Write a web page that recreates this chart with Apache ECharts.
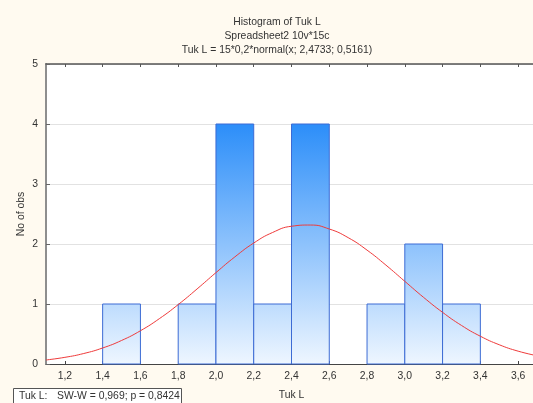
<!DOCTYPE html>
<html>
<head>
<meta charset="utf-8">
<script src="https://cdn.jsdelivr.net/npm/echarts@6/dist/echarts.min.js"></script>
<style>
  html, body { margin: 0; padding: 0; background: #fffaf0; }
  #chart { width: 533px; height: 403px; }
</style>
</head>
<body>
<div id="chart"></div>
<script>
// Histogram bins (lower edge, upper edge) and counts
const binLow  = [1.4, 1.8, 2.0, 2.2, 2.4, 2.8, 3.0, 3.2];
const binHigh = [1.6, 2.0, 2.2, 2.4, 2.6, 3.0, 3.2, 3.4];
const counts  = [1, 1, 4, 1, 4, 1, 2, 1];

// Fitted normal curve, 15*0,2*normal(x; 2,4733; 0,5161), sampled
const curveX = [1.1, 1.2, 1.3, 1.4, 1.5, 1.6, 1.7, 1.8, 1.9, 2.0, 2.1, 2.2, 2.3, 2.4,
                2.5, 2.6, 2.7, 2.8, 2.9, 3.0, 3.1, 3.2, 3.3, 3.4, 3.5, 3.6, 3.7];
const curveY = [0.067, 0.111, 0.175, 0.267, 0.392, 0.554, 0.755, 0.990, 1.251, 1.523,
                1.785, 2.016, 2.192, 2.296, 2.316, 2.250, 2.106, 1.898, 1.648, 1.378,
                1.109, 0.861, 0.643, 0.463, 0.321, 0.214, 0.138];

// Axis ticks
const xTicks = [1.2, 1.4, 1.6, 1.8, 2.0, 2.2, 2.4, 2.6, 2.8, 3.0, 3.2, 3.4, 3.6];

const titleLines = ['Histogram of Tuk L', 'Spreadsheet2 10v*15c', 'Tuk L = 15*0,2*normal(x; 2,4733; 0,5161)'];
const xName = 'Tuk L';
const yName = 'No of obs';
const testLabel = 'Tuk L:';
const testText = 'SW-W = 0,969; p = 0,8424';

const FONT = 'Arial, "Liberation Sans", sans-serif';
const FS = 10.4;
const fmt = v => v.toFixed(1).replace('.', ',');

const chart = echarts.init(document.getElementById('chart'), null, { renderer: 'canvas' });

const histData = binLow.map((lo, i) => [lo, binHigh[i], counts[i]]);
const curveData = curveX.map((x, i) => [x, curveY[i]]);

const option = {
  backgroundColor: '#fffaf0',
  animation: false,
  textStyle: { fontFamily: FONT },
  grid: {
    left: 46, top: 64, width: 491, height: 300,
    outerBoundsMode: 'none', containLabel: false,
    backgroundColor: '#ffffff', show: true, borderWidth: 0
  },
  xAxis: [{
    type: 'value', min: 1.1, max: 3.7, position: 'bottom',
    name: xName, nameLocation: 'middle', nameGap: 26,
    nameTextStyle: { color: '#333', fontSize: FS, fontFamily: FONT },
    axisLine: { show: true, onZero: false, lineStyle: { color: '#444', width: 1 } },
    axisTick: { show: true, inside: true, length: 3, customValues: xTicks, lineStyle: { color: '#444' } },
    axisLabel: { customValues: xTicks, formatter: v => fmt(v), color: '#333', fontSize: FS, margin: 7, fontFamily: FONT },
    splitLine: { show: false }
  }, {
    type: 'value', min: 1.1, max: 3.7, position: 'top',
    axisLine: { show: true, onZero: false, lineStyle: { color: '#555', width: 1.5 } },
    axisTick: { show: true, inside: true, length: 3, customValues: xTicks, lineStyle: { color: '#555' } },
    axisLabel: { show: false },
    splitLine: { show: false }
  }],
  yAxis: {
    type: 'value', min: 0, max: 5, interval: 1,
    name: yName, nameLocation: 'middle', nameGap: 20, nameRotate: 90, nameMoveOverlap: false,
    nameTextStyle: { color: '#333', fontSize: FS, fontFamily: FONT },
    axisLine: { show: true, lineStyle: { color: '#8e8e8e', width: 2 } },
    axisTick: { show: true, inside: true, length: 4, lineStyle: { color: '#666' } },
    axisLabel: { color: '#333', fontSize: FS, margin: 8, fontFamily: FONT },
    splitLine: { show: true, lineStyle: { color: '#e2e2e2', width: 1 } }
  },
  series: [{
    type: 'custom',
    xAxisIndex: 0,
    data: histData,
    encode: { x: [0, 1], y: 2 },
    renderItem: function (params, api) {
      const lo = api.value(0), hi = api.value(1), n = api.value(2);
      const p0 = api.coord([lo, n]);
      const p1 = api.coord([hi, 0]);
      const yTop = api.coord([lo, 4])[1];
      const yBot = api.coord([lo, 0])[1];
      const fill = new echarts.graphic.LinearGradient(0, yTop, 0, yBot, [
        { offset: 0, color: '#2c8ef9' },
        { offset: 1, color: '#eef6ff' }
      ], true);
      return {
        type: 'rect',
        shape: { x: p0[0], y: p0[1], width: p1[0] - p0[0], height: p1[1] - p0[1] },
        style: { fill: fill, stroke: '#3c6bd4', lineWidth: 1 }
      };
    },
    z: 2
  }, {
    type: 'line',
    xAxisIndex: 0,
    data: curveData,
    smooth: true,
    showSymbol: false,
    symbol: 'none',
    lineStyle: { color: '#ee3b3b', width: 1 },
    z: 3
  }],
  graphic: [
    { type: 'text', x: 277, y: 22, style: { text: titleLines[0], fill: '#333', font: FS + 'px ' + FONT, textAlign: 'center', textVerticalAlign: 'middle' } },
    { type: 'text', x: 277, y: 36, style: { text: titleLines[1], fill: '#333', font: FS + 'px ' + FONT, textAlign: 'center', textVerticalAlign: 'middle' } },
    { type: 'text', x: 277, y: 50, style: { text: titleLines[2], fill: '#333', font: FS + 'px ' + FONT, textAlign: 'center', textVerticalAlign: 'middle' } },
    { type: 'rect', shape: { x: 13.5, y: 388.5, width: 168, height: 20 }, style: { fill: '#ffffff', stroke: '#555', lineWidth: 1 }, z: 10 },
    { type: 'text', x: 19, y: 396, style: { text: testLabel, fill: '#333', font: FS + 'px ' + FONT, textVerticalAlign: 'middle' }, z: 11 },
    { type: 'text', x: 57, y: 396, style: { text: testText, fill: '#333', font: FS + 'px ' + FONT, textVerticalAlign: 'middle' }, z: 11 }
  ]
};

chart.setOption(option);
</script>
</body>
</html>
